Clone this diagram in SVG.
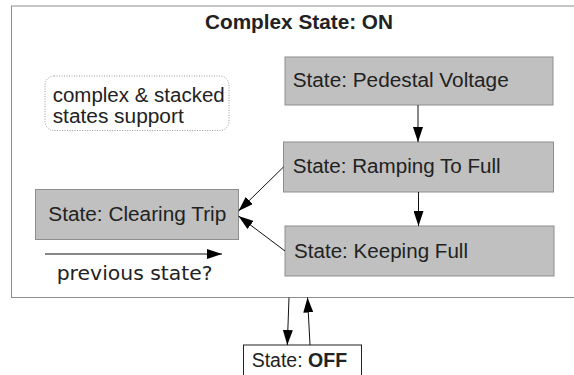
<svg xmlns="http://www.w3.org/2000/svg" width="574" height="375" viewBox="0 0 574 375">
<style>
.t{font-family:"Liberation Sans",Arial,sans-serif;font-size:19.5px;fill:#222}
.b{font-weight:bold}
.st{fill:#c0c0c0;stroke:#8e8e8e;stroke-width:1}
.c{stroke:#111;stroke-width:1;fill:none;marker-end:url(#ah)}
</style>
<defs>
<marker id="ah" markerUnits="userSpaceOnUse" markerWidth="15" markerHeight="10" refX="15" refY="5" orient="auto" viewBox="0 0 15 10">
<path d="M0,0 L15,5 L0,10 z" fill="#000"/>
</marker>
</defs>
<rect width="574" height="375" fill="#fff"/>
<g id="on">
<rect x="11.5" y="6" width="600" height="291.5" fill="#fff" stroke="#8e8e8e" stroke-width="1"/>
<text class="t b" x="205" y="29" textLength="188" lengthAdjust="spacingAndGlyphs">Complex State: ON</text>
</g>
<g id="note">
<rect x="45" y="76" width="184" height="54.5" rx="9" ry="9" fill="#fff" stroke="#9a9a9a" stroke-width="1" stroke-dasharray="1,1.5"/>
<text class="t" x="52.7" y="101.5" font-size="19" textLength="172" lengthAdjust="spacingAndGlyphs">complex &amp; stacked</text>
<text class="t" x="52.7" y="122.5" font-size="19" textLength="131" lengthAdjust="spacingAndGlyphs">states support</text>
</g>
<g id="pedestal">
<rect class="st" x="285" y="57" width="268" height="48"/>
<text class="t" x="292.7" y="87.3" textLength="216" lengthAdjust="spacingAndGlyphs">State: Pedestal Voltage</text>
</g>
<g id="ramping">
<rect class="st" x="283.5" y="142" width="270" height="50"/>
<text class="t" x="292.7" y="173.3" textLength="208" lengthAdjust="spacingAndGlyphs">State: Ramping To Full</text>
</g>
<g id="keeping">
<rect class="st" x="285" y="226" width="269" height="50"/>
<text class="t" x="294" y="257.7" textLength="174" lengthAdjust="spacingAndGlyphs">State: Keeping Full</text>
</g>
<g id="clearing">
<rect class="st" x="35.5" y="189.5" width="203" height="50"/>
<text class="t" x="48.3" y="220.7" textLength="178" lengthAdjust="spacingAndGlyphs">State: Clearing Trip</text>
</g>
<g id="prev">
<text x="56.7" y="280" font-family="DejaVu Sans,sans-serif" font-size="20" fill="#222" textLength="156" lengthAdjust="spacingAndGlyphs">previous state?</text>
</g>
<g id="off">
<rect x="243.5" y="345" width="118" height="40" fill="#fff" stroke="#222" stroke-width="1"/>
<text class="t" x="251.7" y="367.3" font-size="20">State: <tspan class="b">OFF</tspan></text>
</g>
<g id="connectors">
<line class="c" x1="418" y1="105" x2="418" y2="142"/>
<line class="c" x1="418.5" y1="192" x2="418.5" y2="226"/>
<line class="c" x1="283.5" y1="167" x2="238.5" y2="211"/>
<line class="c" x1="285" y1="251" x2="238.5" y2="216"/>
<line class="c" x1="45" y1="254" x2="222" y2="254"/>
<line class="c" x1="289" y1="297.5" x2="287.3" y2="345"/>
<line class="c" x1="310" y1="345" x2="307.5" y2="297.5"/>
</g>
</svg>
